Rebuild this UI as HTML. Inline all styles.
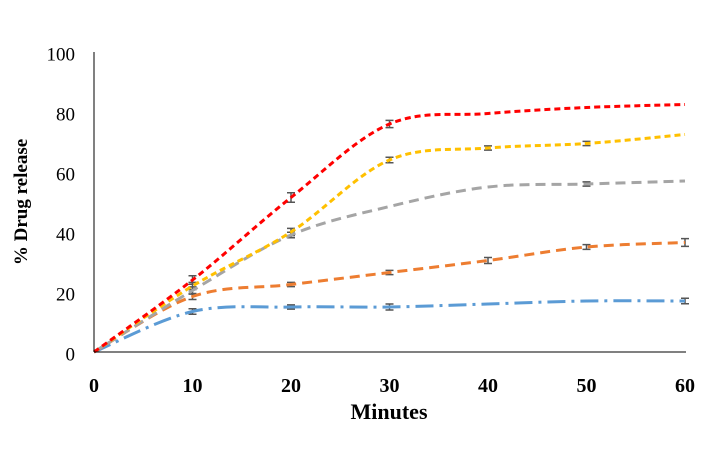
<!DOCTYPE html>
<html><head><meta charset="utf-8"><style>
body{margin:0;background:#fff}
svg{display:block}
text{font-family:"Liberation Serif",serif;fill:#000}
</style></head><body>
<svg id="chart" width="723" height="462" viewBox="0 0 723 462">
<rect width="723" height="462" fill="#fff"/>
<g id="ticks"></g>
<g id="errs"></g>
<g id="series"></g>
<line x1="94" y1="52" x2="94" y2="352" stroke="#000" stroke-width="1"/>
<line x1="94" y1="352" x2="686" y2="352" stroke="#000" stroke-width="1"/>
<text x="389" y="419" font-size="22" font-weight="bold" text-anchor="middle">Minutes</text>
<text transform="translate(27,202) rotate(-90)" font-size="19" font-weight="bold" text-anchor="middle">% Drug release</text>
</svg>
<script>
const times=[0,10,20,30,40,50,60];
const xTicks=[0,10,20,30,40,50,60];
const yTicks=[0,20,40,60,80,100];
const redVals=[0,24,51.5,76,79.5,81.5,82.5];
const yellowVals=[0,22,40,64,68,69.5,72.5];
const grayVals=[0,20.5,39,48.5,55,56,57];
const orangeVals=[0,18.5,22.5,26.5,30.5,35,36.5];
const blueVals=[0,13.5,15,15,16,17,17];
const redErr=[0,1,1.2,0.8,0,0,0];
const yellowErr=[0,0.8,0.8,0.5,0.3,0.3,0];
const grayErr=[0,0.8,0.5,0,0,0.3,0];
const orangeErr=[0,0.6,0.3,0.3,0.6,0.4,0.9];
const blueErr=[0,0.5,0.3,0.6,0,0,0.5];
const NS='http://www.w3.org/2000/svg';
const X=v=>94+v*(591/60);
const Y=v=>352-v*3;
function mk(t,a){const e=document.createElementNS(NS,t);for(const k in a)e.setAttribute(k,a[k]);return e;}
const tg=document.getElementById('ticks');
xTicks.forEach(t=>{
 const tx=mk('text',{x:X(t),y:392,'font-size':20,'font-weight':'bold','text-anchor':'middle'});
 
 
 tx.textContent=t;tg.appendChild(tx);
});
yTicks.forEach(t=>{
 const tx=mk('text',{x:75,y:Y(t)+8.5,'font-size':19,'text-anchor':'end'});
 
 
 tx.textContent=t;tg.appendChild(tx);
});
function smooth(pts){
 let d='M'+pts[0][0]+','+pts[0][1];
 for(let i=0;i<pts.length-1;i++){
  const p0=pts[i-1]||pts[i],p1=pts[i],p2=pts[i+1],p3=pts[i+2]||p2;
  const c1=[p1[0]+(p2[0]-p0[0])/6,p1[1]+(p2[1]-p0[1])/6];
  const c2=[p2[0]-(p3[0]-p1[0])/6,p2[1]-(p3[1]-p1[1])/6];
  d+=' C'+c1+' '+c2+' '+p2;
 }
 return d;
}
const sg=document.getElementById('series');
const eg=document.getElementById('errs');
const defs=[
 ['blue',blueVals,blueErr,'#5b9bd5','18,6,3,6'],
 ['orange',orangeVals,orangeErr,'#ed7d31','10,6'],
 ['gray',grayVals,grayErr,'#a5a5a5','10,6'],
 ['yellow',yellowVals,yellowErr,'#ffc000','6,4'],
 ['red',redVals,redErr,'#ff0000','6,4']
];
defs.forEach(([n,vals,errs,col,dash])=>{
 const g=mk('g',{});
 
 
 const pts=times.map((t,i)=>[X(t),Y(vals[i])]);
 const p=mk('path',{d:smooth(pts),fill:'none',stroke:col,'stroke-width':3,'stroke-dasharray':dash});
 
 
 g.appendChild(p);
 times.forEach((t,i)=>{
  if(errs[i]<=0)return;
  const x=X(t),y1=Y(vals[i]+errs[i]+0.4),y2=Y(vals[i]-errs[i]-0.4);
  const e=mk('path',{d:`M${x},${y1}V${y2}M${x-4},${y1}H${x+4}M${x-4},${y2}H${x+4}`,stroke:'#555','stroke-width':1.5,fill:'none'});
  
  
  eg.appendChild(e);
 });
 sg.appendChild(g);
});
</script>
</body></html>
